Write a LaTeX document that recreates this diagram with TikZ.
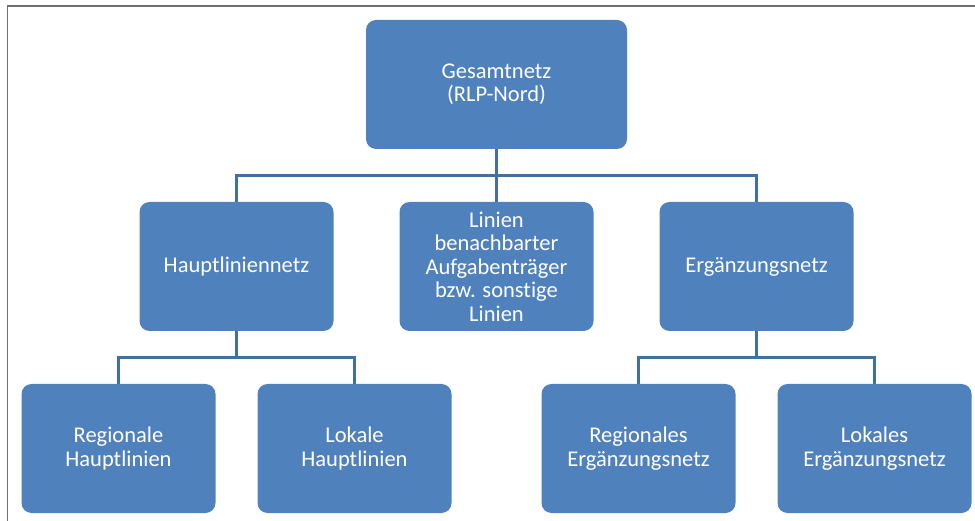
\documentclass[tikz,border=0pt]{standalone}
\usepackage{fontspec}
\setmainfont{Carlito}[Ligatures=NoCommon]
\definecolor{netzblue}{HTML}{4F81BD}
\definecolor{linkblue}{HTML}{41719C}
\definecolor{framegray}{HTML}{707070}
\begin{document}
\begin{tikzpicture}[
                x=1pt, y=1pt,
                level distance=182pt,
                every node/.style={fill=netzblue, text=white, rounded corners=10pt,
                    minimum width=194pt, minimum height=129pt, align=center,
                    font=\fontsize{22.5}{23.5}\selectfont},
                level 1/.style={sibling distance=260pt},
                level 2/.style={sibling distance=236pt},
                edge from parent/.style={draw=linkblue, line width=2.5pt},
                edge from parent path={(\tikzparentnode.south) -- ++(0,-26.5) -| (\tikzchildnode.north)}
            ]

            % frame
            \useasboundingbox (0,0) rectangle (975,-521);
            \draw[framegray, line width=1.5pt] (7.5,-521) -- (7.5,-6) -- (975,-6);

            \node[minimum width=261pt] (gesamt) at (496.5,-84.5) {Gesamtnetz\\(RLP-Nord)}
            child {node (haupt) {Hauptliniennetz}
                    child {node (reghaupt) {Regionale\\Hauptlinien}}
                    child {node (lokhaupt) {Lokale\\Hauptlinien}}
                }
            child {node (nachbar) {Linien\\benachbarter\\Aufgabenträger\\bzw. sonstige\\Linien}}
            child {node (ergaenz) {Ergänzungsnetz}
                    child {node (regergaenz) {Regionales\\Ergänzungsnetz}}
                    child {node (lokergaenz) {Lokales\\Ergänzungsnetz}}
                };

        \end{tikzpicture}
\end{document}
